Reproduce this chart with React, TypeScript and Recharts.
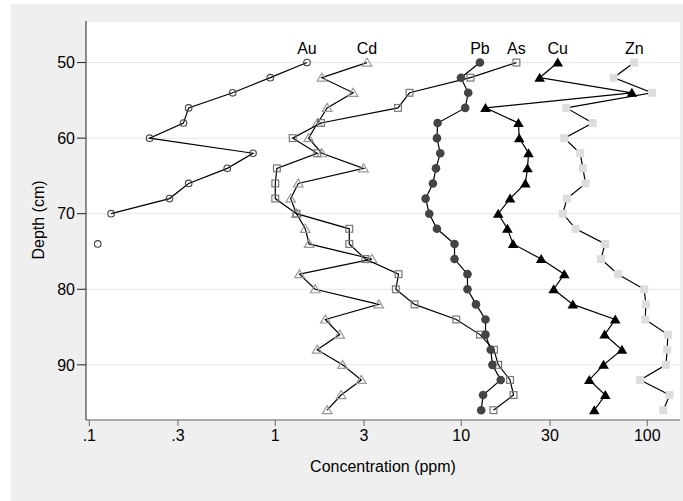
import React from 'react'
import { ComposedChart, Scatter, XAxis, YAxis, CartesianGrid } from 'recharts'

// depth below surface, one sample every 2 cm
const depths = [50, 52, 54, 56, 58, 60, 62, 64, 66, 68, 70, 72, 74, 76, 78, 80, 82, 84, 86, 88, 90, 92, 94, 96]

// concentrations (ppm)
const au = [1.48, 0.94, 0.59, 0.342, 0.321, 0.211, 0.759, 0.552, 0.342, 0.27, 0.131]
const auLoose = { depth: 74, value: 0.111 }
const cd = [3.11, 1.78, 2.62, 1.9, 1.69, 1.51, 1.78, 2.98, 1.33, 1.21, 1.3, 1.45, 1.52, 3.31, 1.35, 1.64, 3.6, 1.86, 2.22, 1.68, 2.3, 2.9, 2.26, 1.9]
const pb = [12.6, 9.96, 10.9, 10.5, 7.46, 7.4, 7.71, 7.31, 7.04, 6.43, 6.73, 7.4, 9.2, 9.2, 10.8, 10.8, 12.0, 13.5, 13.5, 14.4, 14.7, 16.3, 13.1, 12.8]
const as = [19.8, 11.2, 5.27, 4.57, 1.76, 1.24, 1.68, 1.02, 1.0, 1.0, 1.3, 2.5, 2.5, 3.05, 4.6, 4.45, 5.61, 9.4, 12.6, 15.0, 15.8, 18.3, 19.1, 14.9]
const cu = [33.0, 26.4, 82.7, 13.5, 20.3, 20.5, 23.0, 22.7, 22.1, 18.3, 15.8, 17.7, 19.0, 26.9, 35.8, 31.4, 39.8, 67.3, 59.0, 73.1, 58.2, 48.8, 59.5, 51.9]
const zn = [85.1, 65.9, 106, 36.7, 50.9, 35.8, 43.6, 45.1, 46.6, 37.0, 35.2, 41.2, 59.3, 56.4, 69.6, 96.3, 98.3, 97.5, 129, 128, 126, 91.6, 132, 122]

const xTicks = [0.1, 0.3, 1, 3, 10, 30, 100]
const yTicks = [50, 60, 70, 80, 90]

const FONT = "'Liberation Sans', Arial, Helvetica, sans-serif"

const toPoints = (values: number[], label: string) =>
    values.map((v, i) => ({ x: v, y: depths[i], label: i === 0 ? label : undefined }))

type Kind = 'hollowCircle' | 'hollowTriangle' | 'dot' | 'hollowSquare' | 'triangle' | 'square'

const Marker = ({ cx, cy, payload, kind }: any) => {
    if (cx == null || cy == null) return null
    let mark: React.ReactNode = null
    switch (kind as Kind) {
        case 'hollowCircle':
            mark = <circle cx={cx} cy={cy} r={3.3} fill="none" stroke="#444" strokeWidth={1.1} />
            break
        case 'dot':
            mark = <circle cx={cx} cy={cy} r={4.3} fill="#444" />
            break
        case 'hollowTriangle':
            mark = <path d={`M${cx},${cy - 4.5}L${cx + 4.8},${cy + 3.5}L${cx - 4.8},${cy + 3.5}Z`} fill="none" stroke="#999" strokeWidth={1.2} />
            break
        case 'triangle':
            mark = <path d={`M${cx},${cy - 5}L${cx + 5.3},${cy + 4}L${cx - 5.3},${cy + 4}Z`} fill="#000" />
            break
        case 'hollowSquare':
            mark = <rect x={cx - 3.4} y={cy - 3.4} width={6.8} height={6.8} fill="none" stroke="#777" strokeWidth={1.2} />
            break
        case 'square':
            mark = <rect x={cx - 4} y={cy - 4} width={8} height={8} fill="#ddd" />
            break
    }
    return (
        <g>
            {mark}
            {payload && payload.label ? (
                <text x={cx} y={cy - 9} textAnchor="middle" fontSize={16} fill="#000" fontFamily={FONT}>
                    {payload.label}
                </text>
            ) : null}
        </g>
    )
}

const lineStyle = { stroke: '#000', strokeWidth: 1.2 }

export default function App() {
    const tick = { fontSize: 16, fill: '#000', fontFamily: FONT }
    return (
        <div style={{ position: 'absolute', left: 11, top: 4, width: 672, height: 497, background: '#efefef' }}>
            <ComposedChart width={672} height={497} margin={{ top: 17, right: 3, bottom: 21, left: 15 }}>
                <CartesianGrid horizontal vertical={false} fill="#fff" stroke="#e6e6e6" />
                <XAxis
                    dataKey="x"
                    type="number"
                    scale="log"
                    domain={[0.096, 150]}
                    allowDataOverflow
                    ticks={xTicks}
                    tickFormatter={(v: number) => (v < 1 ? String(v).replace(/^0/, '') : String(v))}
                    tick={tick}
                    tickSize={6}
                    tickMargin={4}
                    height={60}
                    stroke="#666"
                    label={{
                        content: () => (
                            <text x={372} y={468} textAnchor="middle" fontSize={16} fill="#000" fontFamily={FONT}>
                                Concentration (ppm)
                            </text>
                        ),
                    }}
                />
                <YAxis
                    dataKey="y"
                    type="number"
                    reversed
                    domain={[44.5, 97.3]}
                    allowDataOverflow
                    ticks={yTicks}
                    tick={tick}
                    tickSize={9}
                    width={60}
                    stroke="#222"
                    label={{
                        content: () => (
                            <text x={33} y={216} textAnchor="middle" fontSize={16} fill="#000" fontFamily={FONT} transform="rotate(-90 33 216)">
                                Depth (cm)
                            </text>
                        ),
                    }}
                />
                <Scatter data={toPoints(au, 'Au')} line={lineStyle} shape={(p: any) => <Marker {...p} kind="hollowCircle" />} isAnimationActive={false} />
                <Scatter data={[{ x: auLoose.value, y: auLoose.depth }]} shape={(p: any) => <Marker {...p} kind="hollowCircle" />} isAnimationActive={false} />
                <Scatter data={toPoints(cd, 'Cd')} line={lineStyle} shape={(p: any) => <Marker {...p} kind="hollowTriangle" />} isAnimationActive={false} />
                <Scatter data={toPoints(as, 'As')} line={lineStyle} shape={(p: any) => <Marker {...p} kind="hollowSquare" />} isAnimationActive={false} />
                <Scatter data={toPoints(pb, 'Pb')} line={lineStyle} shape={(p: any) => <Marker {...p} kind="dot" />} isAnimationActive={false} />
                <Scatter data={toPoints(cu, 'Cu')} line={lineStyle} shape={(p: any) => <Marker {...p} kind="triangle" />} isAnimationActive={false} />
                <Scatter data={toPoints(zn, 'Zn')} line={lineStyle} shape={(p: any) => <Marker {...p} kind="square" />} isAnimationActive={false} />
            </ComposedChart>
        </div>
    )
}
